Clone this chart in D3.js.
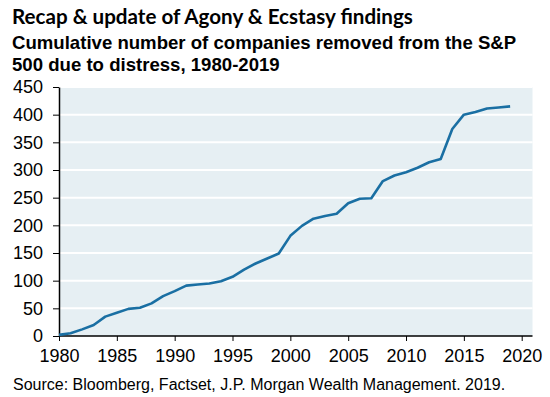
<!DOCTYPE html>
<html><head><meta charset="utf-8">
<script src="https://cdn.jsdelivr.net/npm/d3@7"></script>
<style>body{margin:0;background:#fff}svg{display:block}</style>
</head><body>
<script>
const years = d3.range(1980, 2020);
const removed = [2,5,12,20,35,42,49,51,59,72,81,91,93,95,99,107,120,131,140,149,
                 181,199,212,217,221,240,248,249,280,290,296,304,314,320,374,400,405,411,413,415];
const yTicks = [0,50,100,150,200,250,300,350,400,450];
const xTicks = [1980,1985,1990,1995,2000,2005,2010,2015,2020];
const title = "Recap & update of Agony & Ecstasy findings";
const subtitle = ["Cumulative number of companies removed from the S&P","500 due to distress, 1980-2019"];
const source = "Source: Bloomberg, Factset, J.P. Morgan Wealth Management. 2019.";

const W = 550, H = 397;
const svg = d3.select("body").append("svg").attr("width", W).attr("height", H);
const x = d3.scaleLinear().domain([1980, 2020]).range([59, 521.7]);
const y = d3.scaleLinear().domain([0, 450]).range([336, 87]);
const plotRight = 532.5;
const font = "Liberation Sans, Arial, sans-serif";

svg.append("rect").attr("x", x(1980)).attr("y", y(450)).attr("width", plotRight - x(1980))
  .attr("height", y(0) - y(450)).attr("fill", "#e6eff3");

svg.append("g").selectAll("line").data(yTicks.filter(d => d > 0)).join("line")
  .attr("x1", x(1980)).attr("x2", plotRight).attr("y1", d => y(d)).attr("y2", d => y(d))
  .attr("stroke", "#fff").attr("stroke-width", 2);

const yAxis = svg.append("g").attr("transform", `translate(${x(1980)},0)`)
  .call(d3.axisLeft(y).tickValues(yTicks).tickSize(6).tickPadding(10).tickSizeOuter(0));
yAxis.selectAll("text").attr("font-family", font).attr("font-size", 18).attr("fill", "#000");
yAxis.selectAll("line").attr("stroke", "#000");
yAxis.select(".domain").attr("stroke", "#000").attr("stroke-width", 1.5);

const xAxis = svg.append("g").attr("transform", `translate(0,${y(0)})`)
  .call(d3.axisBottom(x).tickValues(xTicks).tickFormat(d3.format("d")).tickSize(5).tickPadding(8).tickSizeOuter(0));
xAxis.select(".domain").attr("d", `M${x(1980)},0H${plotRight}`).attr("stroke", "#000").attr("stroke-width", 1.5);
xAxis.selectAll("line").attr("stroke", "#000");
xAxis.selectAll("text").attr("font-family", font).attr("font-size", 18).attr("fill", "#000");

const line = d3.line().x((d, i) => x(years[i])).y(d => y(d));
svg.append("path").datum(removed).attr("d", line).attr("fill", "none")
  .attr("stroke", "#1a6fa3").attr("stroke-width", 2.6).attr("stroke-linejoin", "round");

svg.append("text").attr("x", 12).attr("y", 24).text(title)
  .attr("font-family", "Lato, Open Sans, sans-serif").attr("font-weight", "bold").attr("font-size", 20.6).attr("fill", "#000");
subtitle.forEach((s, i) => svg.append("text").attr("x", 12).attr("y", 48.7 + i * 22.3).text(s)
  .attr("font-family", font).attr("font-weight", "bold").attr("font-size", 18.6).attr("fill", "#000"));
svg.append("text").attr("x", 13).attr("y", 390).text(source)
  .attr("font-family", font).attr("font-size", 16).attr("fill", "#000");
</script>
</body></html>
